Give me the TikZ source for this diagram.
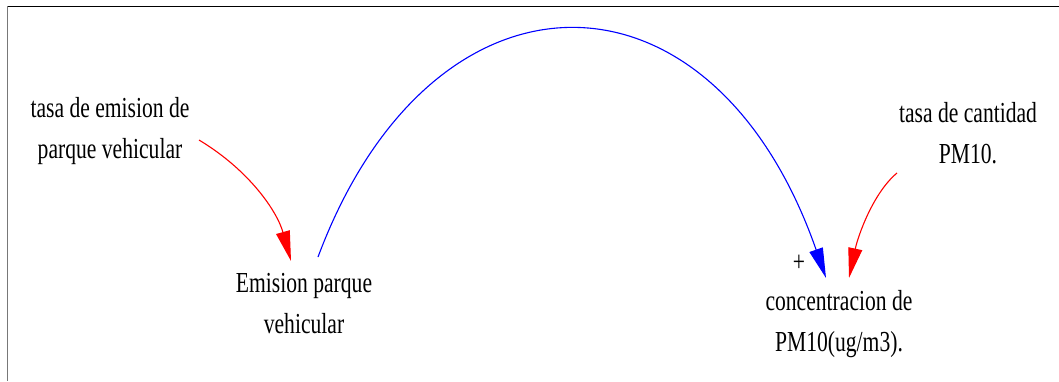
\documentclass[tikz,border=0pt]{standalone}
\usepackage{fontspec}
\newfontfamily\vensim{Liberation Serif}[FakeStretch=0.745]
\usetikzlibrary{arrows.meta}
\definecolor{frameside}{RGB}{120,120,120}
\tikzset{
  every picture/.style={x=1pt, y=-1pt, line width=1.1pt},
  var/.style={font=\vensim\fontsize{29pt}{41pt}\selectfont, align=center, inner sep=0pt, anchor=base},
  sign/.style={font=\vensim\fontsize{29pt}{41pt}\selectfont, inner sep=0pt},
  link/.style={-{Triangle[length=30pt,width=14pt]}, line width=1.1pt},
  redlink/.style={link, color=red},
  bluelink/.style={link, color=blue},
}
\begin{document}
\begin{tikzpicture}
  \useasboundingbox (0,0) rectangle (1059,381);
  % frame
  \draw[line width=1pt] (7,6) -- (1059,6);
  \draw[frameside, line width=1.6pt] (7.5,6) -- (7.5,381);
  % variables (base = last line)
  \node[var] (tasaEmision) at (110,158) {tasa de emision de\\parque vehicular};
  \node[var] (emision) at (304,333) {Emision parque\\vehicular};
  \node[var] (conc) at (839,351) {concentracion de\\PM10(ug/m3).};
  \node[var] (tasaCant) at (968,163) {tasa de cantidad\\PM10.};
  \node[sign] (plusSign) at (799,263) {+};
  % links
  \draw[redlink] ([shift={(89,-18)}]tasaEmision.base) .. controls +(50,30) and +(-14,-50) .. ([shift={(-13,-72)}]emision.base);
  \draw[bluelink] ([shift={(14,-76)}]emision.base) .. controls +(114,-305) and +(-114,-326) .. ([shift={(-13,-73)}]conc.base);
  \draw[redlink] ([shift={(-71,10)}]tasaCant.base) .. controls +(-24,20) and +(9,-42) .. ([shift={(10,-73)}]conc.base);
\end{tikzpicture}
\end{document}
